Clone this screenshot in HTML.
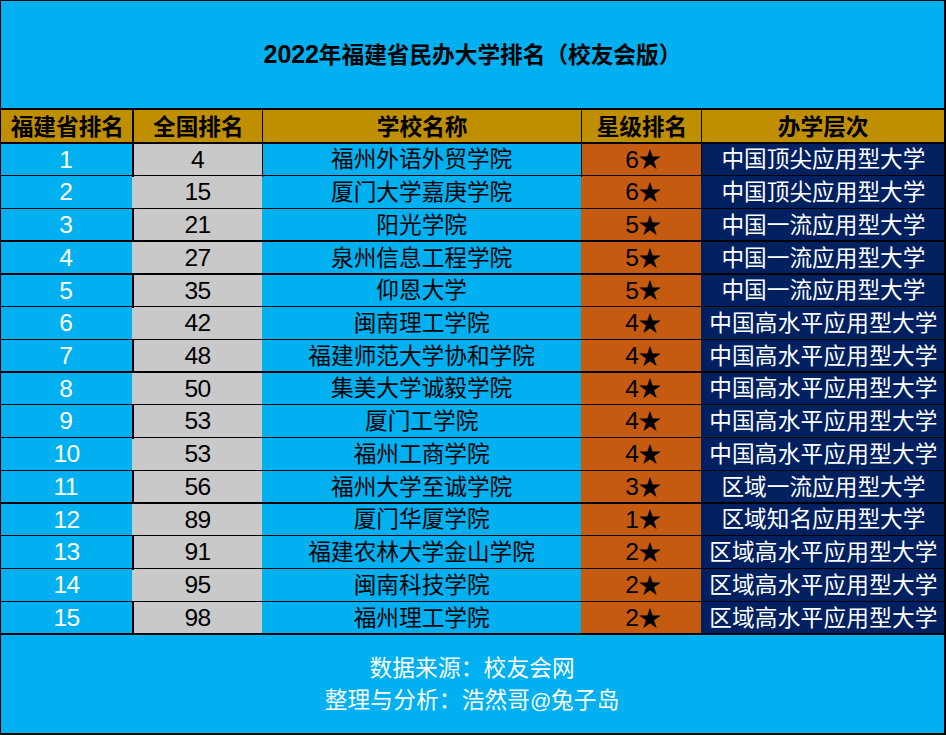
<!DOCTYPE html>
<html lang="zh-CN">
<head>
<meta charset="utf-8">
<title>2022年福建省民办大学排名（校友会版）</title>
<style>
html,body{margin:0;padding:0}
body{width:946px;height:735px;background:#000;position:relative;overflow:hidden;font-family:"Liberation Sans","Noto Sans CJK SC",sans-serif}
.f,.k,.c{position:absolute}
.k{background:#000}
.c{overflow:hidden}
.t{position:absolute;color:inherit;font-family:"Liberation Sans","Noto Sans CJK SC",sans-serif;font-size:22.67px;line-height:30px;height:30px;white-space:nowrap;overflow:hidden;text-align:left}
.n{position:absolute;line-height:30px;height:30px;white-space:nowrap}
.b{font-weight:bold}
</style>
</head>
<body>
<div class="f" style="left:1px;top:1px;width:943px;height:107px;background:#00B0F0"></div>
<div class="f" style="left:1px;top:110px;width:943px;height:32px;background:#BF8F00"></div>
<div class="f" style="left:1px;top:144px;width:131px;height:489px;background:#00B0F0"></div>
<div class="f" style="left:132px;top:144px;width:130px;height:489px;background:#C9C9C9"></div>
<div class="f" style="left:262px;top:144px;width:319px;height:489px;background:#00B0F0"></div>
<div class="f" style="left:581px;top:144px;width:120px;height:489px;background:#C55A11"></div>
<div class="f" style="left:701px;top:144px;width:243px;height:489px;background:#002060"></div>
<div class="f" style="left:1px;top:635px;width:943px;height:98px;background:#00B0F0"></div>
<div class="k" style="left:1px;top:175px;width:943px;height:1px"></div>
<div class="k" style="left:1px;top:208px;width:943px;height:1px"></div>
<div class="k" style="left:1px;top:240px;width:943px;height:2px"></div>
<div class="k" style="left:1px;top:273px;width:943px;height:2px"></div>
<div class="k" style="left:1px;top:306px;width:943px;height:1px"></div>
<div class="k" style="left:1px;top:339px;width:943px;height:1px"></div>
<div class="k" style="left:1px;top:371px;width:943px;height:2px"></div>
<div class="k" style="left:1px;top:404px;width:943px;height:1px"></div>
<div class="k" style="left:1px;top:437px;width:943px;height:1px"></div>
<div class="k" style="left:1px;top:470px;width:943px;height:1px"></div>
<div class="k" style="left:1px;top:502px;width:943px;height:2px"></div>
<div class="k" style="left:1px;top:535px;width:943px;height:1px"></div>
<div class="k" style="left:1px;top:568px;width:943px;height:1px"></div>
<div class="k" style="left:1px;top:601px;width:943px;height:1px"></div>
<div class="k" style="left:132px;top:110px;width:2px;height:32px"></div>
<div class="k" style="left:262px;top:110px;width:1px;height:67px"></div>
<div class="k" style="left:581px;top:110px;width:1px;height:67px"></div>
<div class="k" style="left:701px;top:110px;width:1px;height:67px"></div>
<div class="k" style="left:132px;top:144px;width:2px;height:33px"></div>
<div class="k" style="left:132px;top:209px;width:2px;height:33px"></div>
<div class="k" style="left:132px;top:275px;width:2px;height:33px"></div>
<div class="k" style="left:132px;top:340px;width:2px;height:33px"></div>
<div class="k" style="left:132px;top:405px;width:2px;height:34px"></div>
<div class="k" style="left:132px;top:471px;width:2px;height:33px"></div>
<div class="k" style="left:132px;top:536px;width:2px;height:34px"></div>
<div class="k" style="left:132px;top:602px;width:2px;height:31px"></div>
<div class="c ttl" style="left:1px;top:1px;width:943px;height:107px;color:#000"><span class="n b" style="left:262.58px;top:38.43px;font-size:25.00px;letter-spacing:-0.10px">2022</span><span class="t b" style="left:317.85px;top:39.00px;width:364.72px">年福建省民办大学排名（校友会版）</span></div>
<div class="c hd" style="left:1px;top:110px;width:131px;height:32px;color:#000"><span class="t b" style="left:9.73px;top:1.60px;width:115.35px">福建省排名</span></div>
<div class="c hd" style="left:132px;top:110px;width:130px;height:32px;color:#000"><span class="t b" style="left:21.06px;top:1.60px;width:92.68px">全国排名</span></div>
<div class="c hd" style="left:262px;top:110px;width:319px;height:32px;color:#000"><span class="t b" style="left:114.86px;top:1.60px;width:92.68px">学校名称</span></div>
<div class="c hd" style="left:581px;top:110px;width:120px;height:32px;color:#000"><span class="t b" style="left:15.66px;top:1.60px;width:92.68px">星级排名</span></div>
<div class="c hd" style="left:701px;top:110px;width:243px;height:32px;color:#000"><span class="t b" style="left:76.86px;top:1.60px;width:92.68px">办学层次</span></div>
<div class="c" style="left:1px;top:144px;width:131px;height:31px;color:#fff"><span class="n" style="left:58.16px;top:0.52px;font-size:24.60px;letter-spacing:-0.60px">1</span></div>
<div class="c" style="left:132px;top:144px;width:130px;height:31px;color:#000"><span class="n" style="left:58.96px;top:0.52px;font-size:24.60px;letter-spacing:-0.60px">4</span></div>
<div class="c" style="left:262px;top:144px;width:319px;height:31px;color:#000"><span class="t" style="left:69.02px;top:0.25px;width:183.36px">福州外语外贸学院</span></div>
<div class="c" style="left:581px;top:144px;width:120px;height:31px;color:#000"><span class="n" style="left:44.13px;top:0.52px;font-size:24.60px;letter-spacing:-0.60px">6</span><span class="t" style="left:57.51px;top:0.25px;width:22.26px">★</span></div>
<div class="c" style="left:701px;top:144px;width:243px;height:31px;color:#fff"><span class="t" style="left:20.48px;top:0.25px;width:206.03px">中国顶尖应用型大学</span></div>
<div class="c" style="left:1px;top:176px;width:131px;height:32px;color:#fff"><span class="n" style="left:58.16px;top:1.27px;font-size:24.60px;letter-spacing:-0.60px">2</span></div>
<div class="c" style="left:132px;top:176px;width:130px;height:32px;color:#000"><span class="n" style="left:52.42px;top:1.27px;font-size:24.60px;letter-spacing:-0.60px">15</span></div>
<div class="c" style="left:262px;top:176px;width:319px;height:32px;color:#000"><span class="t" style="left:69.02px;top:1.00px;width:183.36px">厦门大学嘉庚学院</span></div>
<div class="c" style="left:581px;top:176px;width:120px;height:32px;color:#000"><span class="n" style="left:44.13px;top:1.27px;font-size:24.60px;letter-spacing:-0.60px">6</span><span class="t" style="left:57.51px;top:1.00px;width:22.26px">★</span></div>
<div class="c" style="left:701px;top:176px;width:243px;height:32px;color:#fff"><span class="t" style="left:20.48px;top:1.00px;width:206.03px">中国顶尖应用型大学</span></div>
<div class="c" style="left:1px;top:209px;width:131px;height:31px;color:#fff"><span class="n" style="left:58.16px;top:1.02px;font-size:24.60px;letter-spacing:-0.60px">3</span></div>
<div class="c" style="left:132px;top:209px;width:130px;height:31px;color:#000"><span class="n" style="left:52.42px;top:1.02px;font-size:24.60px;letter-spacing:-0.60px">21</span></div>
<div class="c" style="left:262px;top:209px;width:319px;height:31px;color:#000"><span class="t" style="left:114.36px;top:0.75px;width:92.68px">阳光学院</span></div>
<div class="c" style="left:581px;top:209px;width:120px;height:31px;color:#000"><span class="n" style="left:44.13px;top:1.02px;font-size:24.60px;letter-spacing:-0.60px">5</span><span class="t" style="left:57.51px;top:0.75px;width:22.26px">★</span></div>
<div class="c" style="left:701px;top:209px;width:243px;height:31px;color:#fff"><span class="t" style="left:20.48px;top:0.75px;width:206.03px">中国一流应用型大学</span></div>
<div class="c" style="left:1px;top:242px;width:131px;height:31px;color:#fff"><span class="n" style="left:58.16px;top:0.77px;font-size:24.60px;letter-spacing:-0.60px">4</span></div>
<div class="c" style="left:132px;top:242px;width:130px;height:31px;color:#000"><span class="n" style="left:52.42px;top:0.77px;font-size:24.60px;letter-spacing:-0.60px">27</span></div>
<div class="c" style="left:262px;top:242px;width:319px;height:31px;color:#000"><span class="t" style="left:69.02px;top:0.50px;width:183.36px">泉州信息工程学院</span></div>
<div class="c" style="left:581px;top:242px;width:120px;height:31px;color:#000"><span class="n" style="left:44.13px;top:0.77px;font-size:24.60px;letter-spacing:-0.60px">5</span><span class="t" style="left:57.51px;top:0.50px;width:22.26px">★</span></div>
<div class="c" style="left:701px;top:242px;width:243px;height:31px;color:#fff"><span class="t" style="left:20.48px;top:0.50px;width:206.03px">中国一流应用型大学</span></div>
<div class="c" style="left:1px;top:275px;width:131px;height:31px;color:#fff"><span class="n" style="left:58.16px;top:0.52px;font-size:24.60px;letter-spacing:-0.60px">5</span></div>
<div class="c" style="left:132px;top:275px;width:130px;height:31px;color:#000"><span class="n" style="left:52.42px;top:0.52px;font-size:24.60px;letter-spacing:-0.60px">35</span></div>
<div class="c" style="left:262px;top:275px;width:319px;height:31px;color:#000"><span class="t" style="left:114.36px;top:0.25px;width:92.68px">仰恩大学</span></div>
<div class="c" style="left:581px;top:275px;width:120px;height:31px;color:#000"><span class="n" style="left:44.13px;top:0.52px;font-size:24.60px;letter-spacing:-0.60px">5</span><span class="t" style="left:57.51px;top:0.25px;width:22.26px">★</span></div>
<div class="c" style="left:701px;top:275px;width:243px;height:31px;color:#fff"><span class="t" style="left:20.48px;top:0.25px;width:206.03px">中国一流应用型大学</span></div>
<div class="c" style="left:1px;top:307px;width:131px;height:32px;color:#fff"><span class="n" style="left:58.16px;top:1.27px;font-size:24.60px;letter-spacing:-0.60px">6</span></div>
<div class="c" style="left:132px;top:307px;width:130px;height:32px;color:#000"><span class="n" style="left:52.42px;top:1.27px;font-size:24.60px;letter-spacing:-0.60px">42</span></div>
<div class="c" style="left:262px;top:307px;width:319px;height:32px;color:#000"><span class="t" style="left:91.69px;top:1.00px;width:138.02px">闽南理工学院</span></div>
<div class="c" style="left:581px;top:307px;width:120px;height:32px;color:#000"><span class="n" style="left:44.13px;top:1.27px;font-size:24.60px;letter-spacing:-0.60px">4</span><span class="t" style="left:57.51px;top:1.00px;width:22.26px">★</span></div>
<div class="c" style="left:701px;top:307px;width:243px;height:32px;color:#fff"><span class="t" style="left:8.15px;top:1.00px;width:230.70px;letter-spacing:0.2px">中国高水平应用型大学</span></div>
<div class="c" style="left:1px;top:340px;width:131px;height:31px;color:#fff"><span class="n" style="left:58.16px;top:1.02px;font-size:24.60px;letter-spacing:-0.60px">7</span></div>
<div class="c" style="left:132px;top:340px;width:130px;height:31px;color:#000"><span class="n" style="left:52.42px;top:1.02px;font-size:24.60px;letter-spacing:-0.60px">48</span></div>
<div class="c" style="left:262px;top:340px;width:319px;height:31px;color:#000"><span class="t" style="left:46.35px;top:0.75px;width:228.70px">福建师范大学协和学院</span></div>
<div class="c" style="left:581px;top:340px;width:120px;height:31px;color:#000"><span class="n" style="left:44.13px;top:1.02px;font-size:24.60px;letter-spacing:-0.60px">4</span><span class="t" style="left:57.51px;top:0.75px;width:22.26px">★</span></div>
<div class="c" style="left:701px;top:340px;width:243px;height:31px;color:#fff"><span class="t" style="left:8.15px;top:0.75px;width:230.70px;letter-spacing:0.2px">中国高水平应用型大学</span></div>
<div class="c" style="left:1px;top:373px;width:131px;height:31px;color:#fff"><span class="n" style="left:58.16px;top:0.52px;font-size:24.60px;letter-spacing:-0.60px">8</span></div>
<div class="c" style="left:132px;top:373px;width:130px;height:31px;color:#000"><span class="n" style="left:52.42px;top:0.52px;font-size:24.60px;letter-spacing:-0.60px">50</span></div>
<div class="c" style="left:262px;top:373px;width:319px;height:31px;color:#000"><span class="t" style="left:69.02px;top:0.25px;width:183.36px">集美大学诚毅学院</span></div>
<div class="c" style="left:581px;top:373px;width:120px;height:31px;color:#000"><span class="n" style="left:44.13px;top:0.52px;font-size:24.60px;letter-spacing:-0.60px">4</span><span class="t" style="left:57.51px;top:0.25px;width:22.26px">★</span></div>
<div class="c" style="left:701px;top:373px;width:243px;height:31px;color:#fff"><span class="t" style="left:8.15px;top:0.25px;width:230.70px;letter-spacing:0.2px">中国高水平应用型大学</span></div>
<div class="c" style="left:1px;top:405px;width:131px;height:32px;color:#fff"><span class="n" style="left:58.16px;top:1.27px;font-size:24.60px;letter-spacing:-0.60px">9</span></div>
<div class="c" style="left:132px;top:405px;width:130px;height:32px;color:#000"><span class="n" style="left:52.42px;top:1.27px;font-size:24.60px;letter-spacing:-0.60px">53</span></div>
<div class="c" style="left:262px;top:405px;width:319px;height:32px;color:#000"><span class="t" style="left:103.02px;top:1.00px;width:115.35px">厦门工学院</span></div>
<div class="c" style="left:581px;top:405px;width:120px;height:32px;color:#000"><span class="n" style="left:44.13px;top:1.27px;font-size:24.60px;letter-spacing:-0.60px">4</span><span class="t" style="left:57.51px;top:1.00px;width:22.26px">★</span></div>
<div class="c" style="left:701px;top:405px;width:243px;height:32px;color:#fff"><span class="t" style="left:8.15px;top:1.00px;width:230.70px;letter-spacing:0.2px">中国高水平应用型大学</span></div>
<div class="c" style="left:1px;top:438px;width:131px;height:32px;color:#fff"><span class="n" style="left:52.42px;top:1.27px;font-size:24.60px;letter-spacing:-0.60px">10</span></div>
<div class="c" style="left:132px;top:438px;width:130px;height:32px;color:#000"><span class="n" style="left:52.42px;top:1.27px;font-size:24.60px;letter-spacing:-0.60px">53</span></div>
<div class="c" style="left:262px;top:438px;width:319px;height:32px;color:#000"><span class="t" style="left:91.69px;top:1.00px;width:138.02px">福州工商学院</span></div>
<div class="c" style="left:581px;top:438px;width:120px;height:32px;color:#000"><span class="n" style="left:44.13px;top:1.27px;font-size:24.60px;letter-spacing:-0.60px">4</span><span class="t" style="left:57.51px;top:1.00px;width:22.26px">★</span></div>
<div class="c" style="left:701px;top:438px;width:243px;height:32px;color:#fff"><span class="t" style="left:8.15px;top:1.00px;width:230.70px;letter-spacing:0.2px">中国高水平应用型大学</span></div>
<div class="c" style="left:1px;top:471px;width:131px;height:31px;color:#fff"><span class="n" style="left:52.42px;top:1.02px;font-size:24.60px;letter-spacing:-0.60px">11</span></div>
<div class="c" style="left:132px;top:471px;width:130px;height:31px;color:#000"><span class="n" style="left:52.42px;top:1.02px;font-size:24.60px;letter-spacing:-0.60px">56</span></div>
<div class="c" style="left:262px;top:471px;width:319px;height:31px;color:#000"><span class="t" style="left:69.02px;top:0.75px;width:183.36px">福州大学至诚学院</span></div>
<div class="c" style="left:581px;top:471px;width:120px;height:31px;color:#000"><span class="n" style="left:44.13px;top:1.02px;font-size:24.60px;letter-spacing:-0.60px">3</span><span class="t" style="left:57.51px;top:0.75px;width:22.26px">★</span></div>
<div class="c" style="left:701px;top:471px;width:243px;height:31px;color:#fff"><span class="t" style="left:20.48px;top:0.75px;width:206.03px">区域一流应用型大学</span></div>
<div class="c" style="left:1px;top:504px;width:131px;height:31px;color:#fff"><span class="n" style="left:52.42px;top:0.52px;font-size:24.60px;letter-spacing:-0.60px">12</span></div>
<div class="c" style="left:132px;top:504px;width:130px;height:31px;color:#000"><span class="n" style="left:52.42px;top:0.52px;font-size:24.60px;letter-spacing:-0.60px">89</span></div>
<div class="c" style="left:262px;top:504px;width:319px;height:31px;color:#000"><span class="t" style="left:91.69px;top:0.25px;width:138.02px">厦门华厦学院</span></div>
<div class="c" style="left:581px;top:504px;width:120px;height:31px;color:#000"><span class="n" style="left:44.13px;top:0.52px;font-size:24.60px;letter-spacing:-0.60px">1</span><span class="t" style="left:57.51px;top:0.25px;width:22.26px">★</span></div>
<div class="c" style="left:701px;top:504px;width:243px;height:31px;color:#fff"><span class="t" style="left:20.48px;top:0.25px;width:206.03px">区域知名应用型大学</span></div>
<div class="c" style="left:1px;top:536px;width:131px;height:32px;color:#fff"><span class="n" style="left:52.42px;top:1.27px;font-size:24.60px;letter-spacing:-0.60px">13</span></div>
<div class="c" style="left:132px;top:536px;width:130px;height:32px;color:#000"><span class="n" style="left:52.42px;top:1.27px;font-size:24.60px;letter-spacing:-0.60px">91</span></div>
<div class="c" style="left:262px;top:536px;width:319px;height:32px;color:#000"><span class="t" style="left:46.35px;top:1.00px;width:228.70px">福建农林大学金山学院</span></div>
<div class="c" style="left:581px;top:536px;width:120px;height:32px;color:#000"><span class="n" style="left:44.13px;top:1.27px;font-size:24.60px;letter-spacing:-0.60px">2</span><span class="t" style="left:57.51px;top:1.00px;width:22.26px">★</span></div>
<div class="c" style="left:701px;top:536px;width:243px;height:32px;color:#fff"><span class="t" style="left:8.15px;top:1.00px;width:230.70px;letter-spacing:0.2px">区域高水平应用型大学</span></div>
<div class="c" style="left:1px;top:569px;width:131px;height:32px;color:#fff"><span class="n" style="left:52.42px;top:1.27px;font-size:24.60px;letter-spacing:-0.60px">14</span></div>
<div class="c" style="left:132px;top:569px;width:130px;height:32px;color:#000"><span class="n" style="left:52.42px;top:1.27px;font-size:24.60px;letter-spacing:-0.60px">95</span></div>
<div class="c" style="left:262px;top:569px;width:319px;height:32px;color:#000"><span class="t" style="left:91.69px;top:1.00px;width:138.02px">闽南科技学院</span></div>
<div class="c" style="left:581px;top:569px;width:120px;height:32px;color:#000"><span class="n" style="left:44.13px;top:1.27px;font-size:24.60px;letter-spacing:-0.60px">2</span><span class="t" style="left:57.51px;top:1.00px;width:22.26px">★</span></div>
<div class="c" style="left:701px;top:569px;width:243px;height:32px;color:#fff"><span class="t" style="left:8.15px;top:1.00px;width:230.70px;letter-spacing:0.2px">区域高水平应用型大学</span></div>
<div class="c" style="left:1px;top:602px;width:131px;height:31px;color:#fff"><span class="n" style="left:52.42px;top:1.02px;font-size:24.60px;letter-spacing:-0.60px">15</span></div>
<div class="c" style="left:132px;top:602px;width:130px;height:31px;color:#000"><span class="n" style="left:52.42px;top:1.02px;font-size:24.60px;letter-spacing:-0.60px">98</span></div>
<div class="c" style="left:262px;top:602px;width:319px;height:31px;color:#000"><span class="t" style="left:91.69px;top:0.75px;width:138.02px">福州理工学院</span></div>
<div class="c" style="left:581px;top:602px;width:120px;height:31px;color:#000"><span class="n" style="left:44.13px;top:1.02px;font-size:24.60px;letter-spacing:-0.60px">2</span><span class="t" style="left:57.51px;top:0.75px;width:22.26px">★</span></div>
<div class="c" style="left:701px;top:602px;width:243px;height:31px;color:#fff"><span class="t" style="left:8.15px;top:0.75px;width:230.70px;letter-spacing:0.2px">区域高水平应用型大学</span></div>
<div class="c ft" style="left:1px;top:650px;width:943px;height:34px;color:#fff"><span class="t" style="left:368.38px;top:2.50px;width:207.65px;letter-spacing:0.18px">数据来源：校友会网</span></div>
<div class="c ft" style="left:1px;top:683px;width:943px;height:34px;color:#fff"><span class="t" style="left:323.64px;top:1.60px;width:207.65px;letter-spacing:0.18px">整理与分析：浩然哥</span><span class="n" style="left:528.99px;top:2.62px;font-size:21.00px;letter-spacing:-0.60px">@</span><span class="t" style="left:550.01px;top:1.60px;width:70.55px;letter-spacing:0.18px">兔子岛</span></div>
</body>
</html>
